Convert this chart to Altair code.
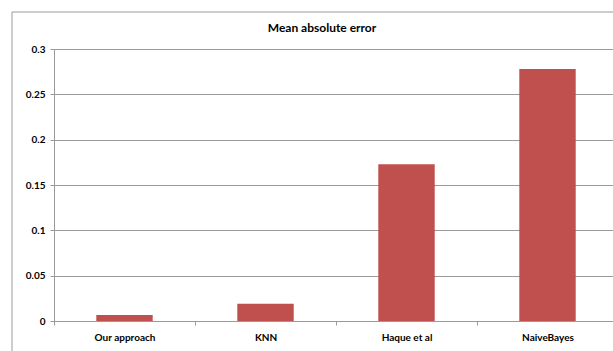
import altair as alt
import pandas as pd

# Mean absolute error per method
methods = ["Our approach", "KNN", "Haque et al", "NaiveBayes"]
mae = [0.0066, 0.019, 0.173, 0.278]
y_ticks = [0, 0.05, 0.1, 0.15, 0.2, 0.25, 0.3]
y_tick_labels = ["0", "0.05", "0.1", "0.15", "0.2", "0.25", "0.3"]
chart_title = "Mean absolute error"

df = pd.DataFrame({"method": methods, "mae": mae})

FONT = "Lato"
GRID = "#9a9a9a"
BAR = "#C0504D"

label_expr = "{" + ", ".join(f"'{v}': '{t}'" for v, t in zip(y_ticks, y_tick_labels)) + "}[datum.value]"

bars = alt.Chart(df).mark_bar(
    color=BAR, width=alt.RelativeBandSize(0.4), clip=True
).encode(
    x=alt.X(
        "method:N",
        sort=methods,
        title=None,
        scale=alt.Scale(range=[0, 564], paddingInner=0, paddingOuter=0),
        axis=alt.Axis(
            labelAngle=0, labelFont=FONT, labelFontSize=10, labelFontWeight="bold",
            labelColor="#000", tickBand="extent", tickColor=GRID, tickSize=4,
            domainColor=GRID, labelPadding=7, grid=False,
        ),
    ),
    y=alt.Y(
        "mae:Q",
        title=None,
        scale=alt.Scale(domain=[0, 0.3], nice=False),
        axis=alt.Axis(
            values=y_ticks, labelExpr=label_expr, labelFont=FONT, labelFontSize=10,
            labelFontWeight="bold", labelColor="#000", tickColor=GRID, tickSize=4,
            domainColor=GRID, gridColor=GRID, labelPadding=5,
        ),
    ),
)

# outer chart frame
frame = alt.Chart(df.head(1)).mark_rect(
    fill=None, stroke=GRID, strokeWidth=1, clip=False
).encode(
    x=alt.value(-42), x2=alt.value(600), y=alt.value(-37), y2=alt.value(330)
)

# chart heading
heading = alt.Chart(df.head(1)).mark_text(
    text=chart_title, font=FONT, fontSize=12, fontWeight="bold",
    color="#000", align="center", baseline="middle", clip=False,
).encode(x=alt.value(268), y=alt.value(-21))

chart = alt.layer(frame, bars, heading).properties(
    width=559,
    height=272,
    padding={"left": 54, "top": 49, "right": 0, "bottom": 30},
    autosize=alt.AutoSizeParams(type="none"),
).configure_view(stroke=None).configure(background="white")

chart.save("out.html", embed_options={"renderer": "svg", "actions": False})
